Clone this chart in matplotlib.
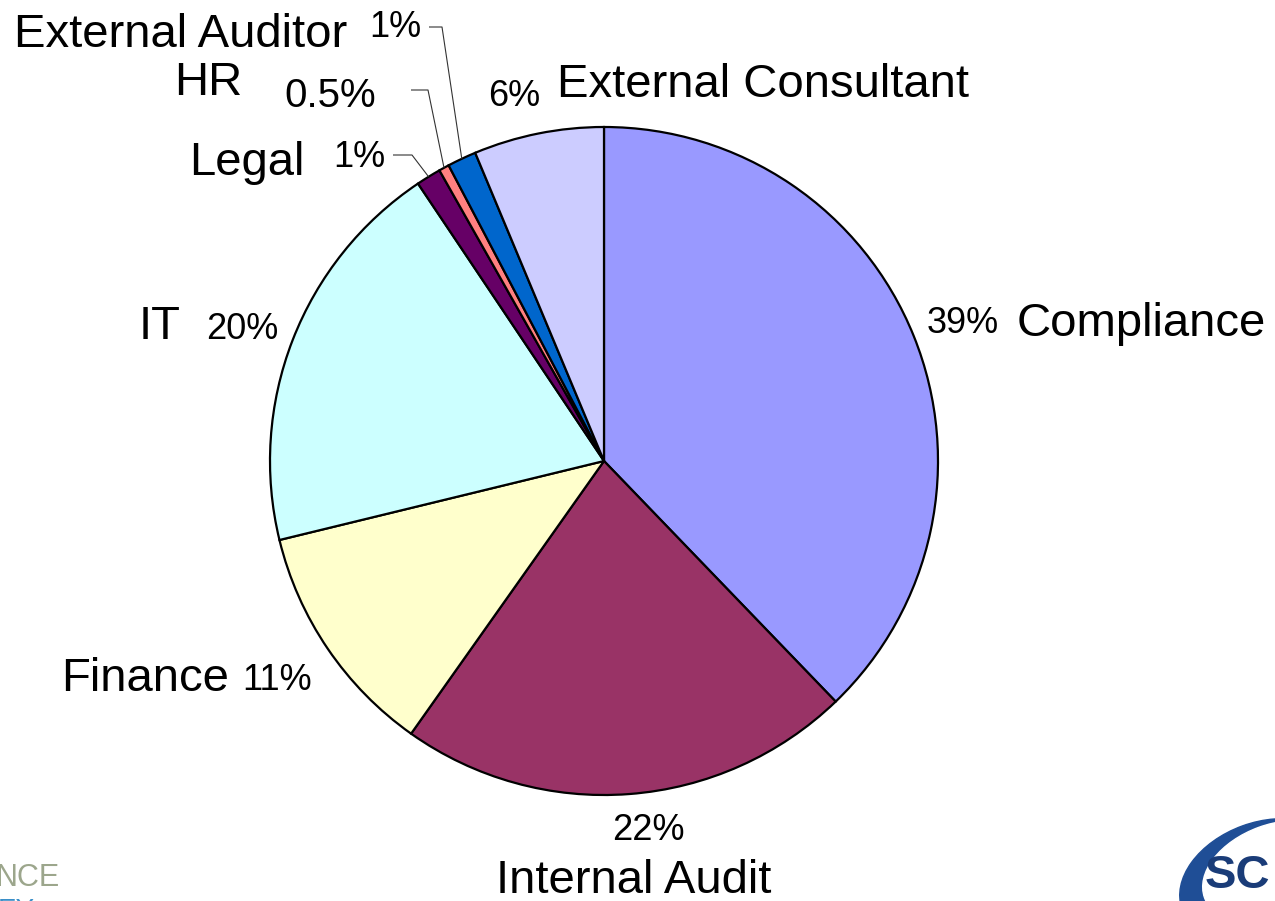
import numpy as np
import matplotlib
matplotlib.use("Agg")
import matplotlib.pyplot as plt
from matplotlib.patches import Ellipse

plt.rcParams['font.family'] = ['Liberation Sans', 'DejaVu Sans']

# ---- data ----
categories = ["Compliance", "Internal Audit", "Finance", "IT", "Legal", "HR",
              "External Auditor", "External Consultant"]
shares = [37.8, 22.0, 11.4, 19.4, 1.2, 0.5, 1.4, 6.3]
pct_labels = ["39%", "22%", "11%", "20%", "1%", "0.5%", "1%", "6%"]
colors = ["#9999FF", "#993366", "#FFFFCC", "#CCFFFF", "#660066", "#FF8080",
          "#0066CC", "#CCCCFF"]

W, H = 1275, 901
fig = plt.figure(figsize=(W / 100, H / 100), dpi=100)
ax = fig.add_axes([0, 0, 1, 1])

CX, CY, R = 604, 461, 334


def Y(yp):
    return H - yp


wedges, _ = ax.pie(shares, colors=colors, startangle=90, counterclock=False,
                   center=(CX, Y(CY)), radius=R,
                   wedgeprops=dict(edgecolor="black", linewidth=1.6))
ax.set_xlim(0, W)
ax.set_ylim(0, H)
ax.set_aspect('equal')
ax.axis('off')

CAT = 34
PCT = 26


def txt(s, x, yb, size, ha='left'):
    ax.text(x, Y(yb), s, fontsize=size, ha=ha, va='baseline', color='black')


# Compliance
txt(pct_labels[0], 927, 333, PCT)
txt(categories[0], 1017, 336, CAT)
# Internal Audit
txt(pct_labels[1], 648, 840, PCT, ha='center')
txt(categories[1], 634, 893, CAT, ha='center')
# Finance
txt(categories[2], 61, 691, CAT)
txt(pct_labels[2], 242, 690, PCT)
# IT
txt(categories[3], 139, 339, CAT)
txt(pct_labels[3], 206, 339, PCT)
# Legal
txt(categories[4], 189, 175, CAT)
txt(pct_labels[4], 333, 167, PCT)
# HR
txt(categories[5], 174, 95, CAT)
txt(pct_labels[5], 284, 107, 29)
# External Auditor
txt(categories[6], 14, 47, CAT)
txt(pct_labels[6], 369, 37, PCT)
# External Consultant
txt(pct_labels[7], 488, 106, PCT)
txt(categories[7], 557, 97, CAT)

# leader lines for the small slices
leaders = {4: (393, 412, 155), 5: (411, 428, 90), 6: (429, 442, 27)}
for i, (x0, x1, yl) in leaders.items():
    w = wedges[i]
    mid = np.deg2rad((w.theta1 + w.theta2) / 2)
    ex = w.center[0] + w.r * np.cos(mid)
    ey = w.center[1] + w.r * np.sin(mid)
    ax.plot([x0, x1, ex], [Y(yl), Y(yl), ey], color='#333333', lw=0.8,
            solid_capstyle='butt')

# partial logos at bottom corners
ax.text(-4, Y(886), "NCE", fontsize=22, color="#9CA68C", ha='left',
        va='baseline')
ax.text(-2, Y(918), "EY", fontsize=20, color="#3A8FC8", ha='left',
        va='baseline', clip_on=True)
ax.add_patch(Ellipse((1262, Y(880)), 170, 115, angle=20, color="#1F4E96",
                     zorder=3))
ax.add_patch(Ellipse((1275, Y(872)), 150, 95, angle=20, color="white",
                     zorder=4))
ax.text(1205, Y(888), "SC", fontsize=34, fontweight='bold', color="#1A3C78",
        ha='left', va='baseline', zorder=5)

fig.savefig("out.png", dpi=100)
